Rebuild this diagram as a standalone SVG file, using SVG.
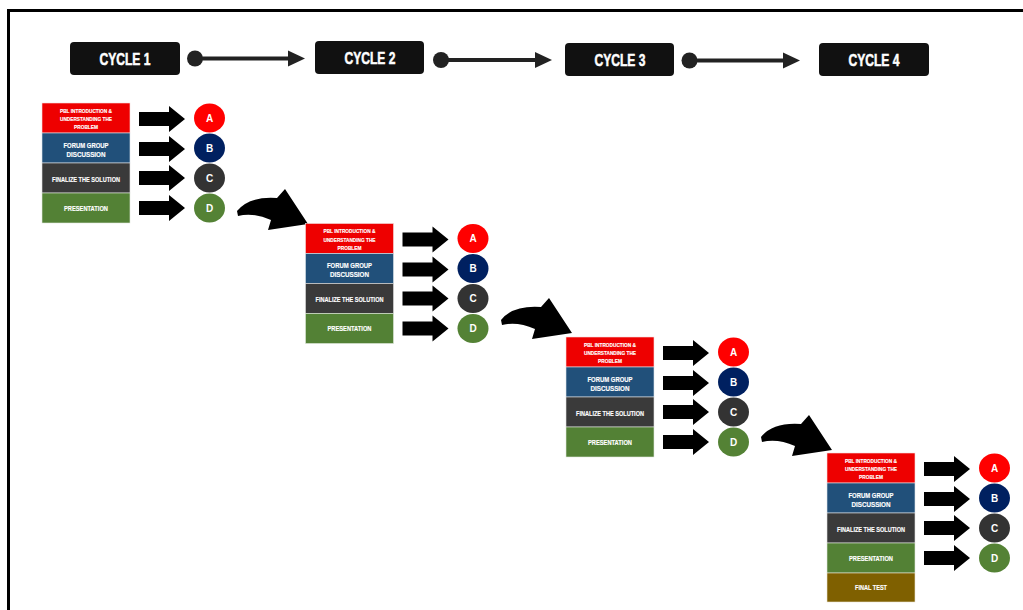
<svg xmlns="http://www.w3.org/2000/svg" width="1023" height="610" viewBox="0 0 1023 610">
<defs>
<style>
.cyc{fill:#111;}
.ct{fill:#fff;stroke:#fff;stroke-width:0.5;font-family:"Liberation Sans",Arial,sans-serif;font-weight:bold;font-size:16px;text-anchor:middle;}
.bt{fill:#fff;stroke:#fff;stroke-width:0.15;font-family:"Liberation Sans",Arial,sans-serif;font-weight:bold;text-anchor:middle;}
.s{font-size:5.6px;}
.m{font-size:7px;}
.ll{fill:#fff;font-family:"Liberation Sans",Arial,sans-serif;font-weight:bold;font-size:10px;text-anchor:middle;}
.r1{fill:#ee0000;stroke:#f4dede;stroke-width:0.6;}
.r2{fill:#21507a;stroke:#dde4ea;stroke-width:0.6;}
.r3{fill:#3a3a3a;stroke:#e0e0e0;stroke-width:0.6;}
.r4{fill:#538135;stroke:#e0e8dc;stroke-width:0.6;}
.r5{fill:#7f6000;stroke:#ece4d4;stroke-width:0.6;}
.ca{fill:#ff0000;}
.cb{fill:#002060;}
.cc{fill:#333;}
.cd{fill:#548235;}
.conn{stroke:#222;stroke-width:4;fill:none;}
</style>
<path id="barrow" d="M0,-7 L30,-7 L30,-13 L46,0 L30,13 L30,7 L0,7 Z" fill="#000"/>
<path id="curve" d="M0,0 Q12,-15 40,-13 L48,-22 L71,13 L31,19 L34,9 Q16,1 1,5 Z" fill="#000"/>
<g id="stack">
<rect class="r1" x="0" y="0" width="88" height="30"/>
<rect class="r2" x="0" y="30" width="88" height="30"/>
<rect class="r3" x="0" y="60" width="88" height="30"/>
<rect class="r4" x="0" y="90" width="88" height="30"/>
<text class="bt s" x="44" y="9.5" textLength="52" lengthAdjust="spacingAndGlyphs">PBL INTRODUCTION &amp;</text>
<text class="bt s" x="44" y="18" textLength="52" lengthAdjust="spacingAndGlyphs">UNDERSTANDING THE</text>
<text class="bt s" x="44" y="26" textLength="24" lengthAdjust="spacingAndGlyphs">PROBLEM</text>
<text class="bt m" x="44" y="44.5" textLength="45" lengthAdjust="spacingAndGlyphs">FORUM GROUP</text>
<text class="bt m" x="44" y="53.5" textLength="39" lengthAdjust="spacingAndGlyphs">DISCUSSION</text>
<text class="bt m" x="44" y="78.5" textLength="68" lengthAdjust="spacingAndGlyphs">FINALIZE THE SOLUTION</text>
<text class="bt m" x="44" y="107.5" textLength="44" lengthAdjust="spacingAndGlyphs">PRESENTATION</text>
<use href="#barrow" x="97" y="16"/>
<use href="#barrow" x="97" y="46"/>
<use href="#barrow" x="97" y="75"/>
<use href="#barrow" x="97" y="105"/>
<ellipse class="ca" cx="167.5" cy="15" rx="15.5" ry="14.5"/>
<ellipse class="cb" cx="167.5" cy="45" rx="15.5" ry="14.5"/>
<ellipse class="cc" cx="167.5" cy="75" rx="15.5" ry="14.5"/>
<ellipse class="cd" cx="167.5" cy="105" rx="15.5" ry="14.5"/>
<text class="ll" x="167.5" y="18.5">A</text>
<text class="ll" x="167.5" y="48.5">B</text>
<text class="ll" x="167.5" y="78.5">C</text>
<text class="ll" x="167.5" y="108.5">D</text>
</g>
</defs>
<rect x="0" y="0" width="1023" height="610" fill="#fff"/>
<rect x="8.5" y="10.5" width="1030" height="620" fill="none" stroke="#000" stroke-width="3"/>

<g id="cycle1"><rect class="cyc" x="70" y="42" width="110" height="33" rx="4"/><text class="ct" x="125" y="64.5" textLength="51" lengthAdjust="spacingAndGlyphs">CYCLE 1</text></g>
<g id="cycle2"><rect class="cyc" x="315" y="41" width="109" height="33" rx="4"/><text class="ct" x="370" y="63.5" textLength="51" lengthAdjust="spacingAndGlyphs">CYCLE 2</text></g>
<g id="cycle3"><rect class="cyc" x="565" y="43" width="109" height="33" rx="4"/><text class="ct" x="620" y="65.5" textLength="51" lengthAdjust="spacingAndGlyphs">CYCLE 3</text></g>
<g id="cycle4"><rect class="cyc" x="819" y="43" width="110" height="33" rx="4"/><text class="ct" x="874" y="65.5" textLength="51" lengthAdjust="spacingAndGlyphs">CYCLE 4</text></g>

<g id="connectors">
<circle cx="195" cy="58.5" r="8" fill="#222"/>
<line class="conn" x1="195" y1="58.5" x2="290" y2="58.5"/>
<path d="M288,50.5 L305,58.5 L288,66.5 Z" fill="#222"/>
<circle cx="441" cy="60" r="8" fill="#222"/>
<line class="conn" x1="441" y1="60" x2="537" y2="60"/>
<path d="M535,52 L552,60 L535,68 Z" fill="#222"/>
<circle cx="689.5" cy="60.5" r="8" fill="#222"/>
<line class="conn" x1="689.5" y1="60.5" x2="785" y2="60.5"/>
<path d="M783,52.5 L800,60.5 L783,68.5 Z" fill="#222"/>
<use href="#curve" x="237" y="211"/>
<use href="#curve" x="501" y="320"/>
<use href="#curve" x="761" y="437"/>
</g>

<g id="block1"><use href="#stack" x="42" y="103"/></g>
<g id="block2"><use href="#stack" x="305.5" y="223.5"/></g>
<g id="block3"><use href="#stack" x="566" y="337"/></g>
<g id="block4"><use href="#stack" x="827" y="453"/>
<rect class="r5" x="827" y="573" width="88" height="29"/>
<text class="bt m" x="871" y="590" textLength="32" lengthAdjust="spacingAndGlyphs">FINAL TEST</text>
</g>
</svg>
